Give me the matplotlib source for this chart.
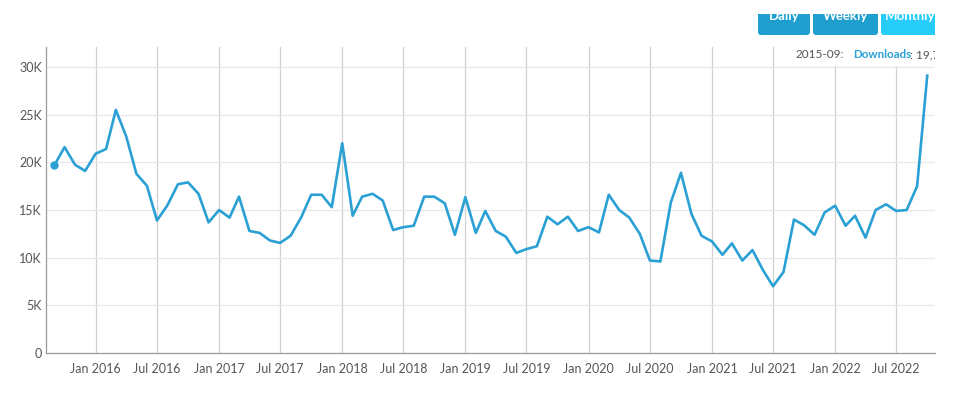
import matplotlib.pyplot as plt
import matplotlib.dates as mdates
from matplotlib.patches import FancyBboxPatch, Rectangle
import pandas as pd
import datetime as dt

plt.rcParams['font.family'] = ['Lato', 'DejaVu Sans']

# monthly downloads, 2015-09 .. 2022-10
first_month = '2015-09-01'
downloads = [
    19700, 21600, 19750, 19100,
    20900, 21400, 25500, 22700, 18800, 17550, 13900, 15500, 17700, 17900, 16700, 13700,
    15000, 14200, 16400, 12800, 12600, 11800, 11550, 12300, 14200, 16600, 16600, 15300,
    22000, 14400, 16400, 16700, 16000, 12900, 13200, 13350, 16400, 16400, 15700, 12400,
    16350, 12600, 14900, 12800, 12200, 10500, 10900, 11200, 14300, 13500, 14300, 12800,
    13200, 12650, 16600, 15000, 14200, 12500, 9700, 9600, 15800, 18900, 14600, 12300,
    11700, 10300, 11500, 9700, 10800, 8700, 7000, 8500, 14000, 13400, 12400, 14750,
    15450, 13350, 14400, 12100, 15000, 15600, 14900, 15000, 17500, 29100,
]
months = pd.date_range(first_month, periods=len(downloads), freq='MS')

y_ticks = [0, 5000, 10000, 15000, 20000, 25000, 30000]
y_labels = ['0', '5K', '10K', '15K', '20K', '25K', '30K']
buttons = ['Daily', 'Weekly', 'Monthly']

line_col = '#2aa0d4'
txt_col = '#555555'

fig = plt.figure(figsize=(9.6, 4), dpi=100)
ax = fig.add_axes([46/960, 1-353/400, (935-46)/960, (353-47)/400])

ax.plot(months, downloads, color=line_col, lw=1.9, solid_joinstyle='round', zorder=3)
ax.plot(months[:1], downloads[:1], 'o', color=line_col, ms=5, zorder=4)

ax.set_xlim(dt.datetime(2015, 8, 7), dt.datetime(2022, 10, 24))
ax.set_ylim(0, 32100)
ax.set_yticks(y_ticks)
ax.set_yticklabels(y_labels)
ax.xaxis.set_major_locator(mdates.MonthLocator(bymonth=[1, 7]))
ax.xaxis.set_major_formatter(mdates.DateFormatter('%b %Y'))
ax.tick_params(axis='both', length=0, labelsize=9, labelcolor=txt_col)
ax.tick_params(axis='x', pad=7)
ax.tick_params(axis='y', pad=3)

ax.grid(axis='x', color='#d0d0d0', lw=0.9)
ax.grid(axis='y', color='#e8e8e8', lw=0.9)
ax.set_axisbelow(True)
for s in ['top', 'right']:
    ax.spines[s].set_visible(False)
for s in ['left', 'bottom']:
    ax.spines[s].set_color('#999999')
    ax.spines[s].set_linewidth(0.9)

# overlay in pixel coords for buttons and tooltip
ov = fig.add_axes([0, 0, 1, 1], zorder=10)
ov.set_xlim(0, 960)
ov.set_ylim(400, 0)
ov.axis('off')
ov.patch.set_alpha(0)

btn_x = [(758, 810), (813, 878), (881, 940)]
btn_col = ['#1f9fcf', '#1f9fcf', '#26cdf8']
for (x0, x1), name, c in zip(btn_x, buttons, btn_col):
    ov.add_patch(FancyBboxPatch((x0, 2), x1-x0, 33, boxstyle='round,pad=0,rounding_size=3',
                                fc=c, ec='none'))
    ov.text((x0+x1)/2, 19.5, name, color='white', fontsize=9.5, fontweight='bold',
            ha='center', va='baseline')
# white band hides top half of buttons
ov.add_patch(Rectangle((0, 0), 960, 14, fc='white', ec='none', zorder=5))

# tooltip
ov.add_patch(Rectangle((776, 41), 160, 25, fc='white', ec='none'))
ov.text(796, 55, '2015-09:', color=txt_col, fontsize=8.5, va='center')
ov.text(853, 55, 'Downloads', color=line_col, fontsize=8.3, fontweight='bold', va='center')
ov.text(910, 55, ': 19,700', color=txt_col, fontsize=8.5, va='center')
ov.add_patch(Rectangle((935, 0), 25, 70, fc='white', ec='none', zorder=5))

fig.savefig('out.png', dpi=100)
